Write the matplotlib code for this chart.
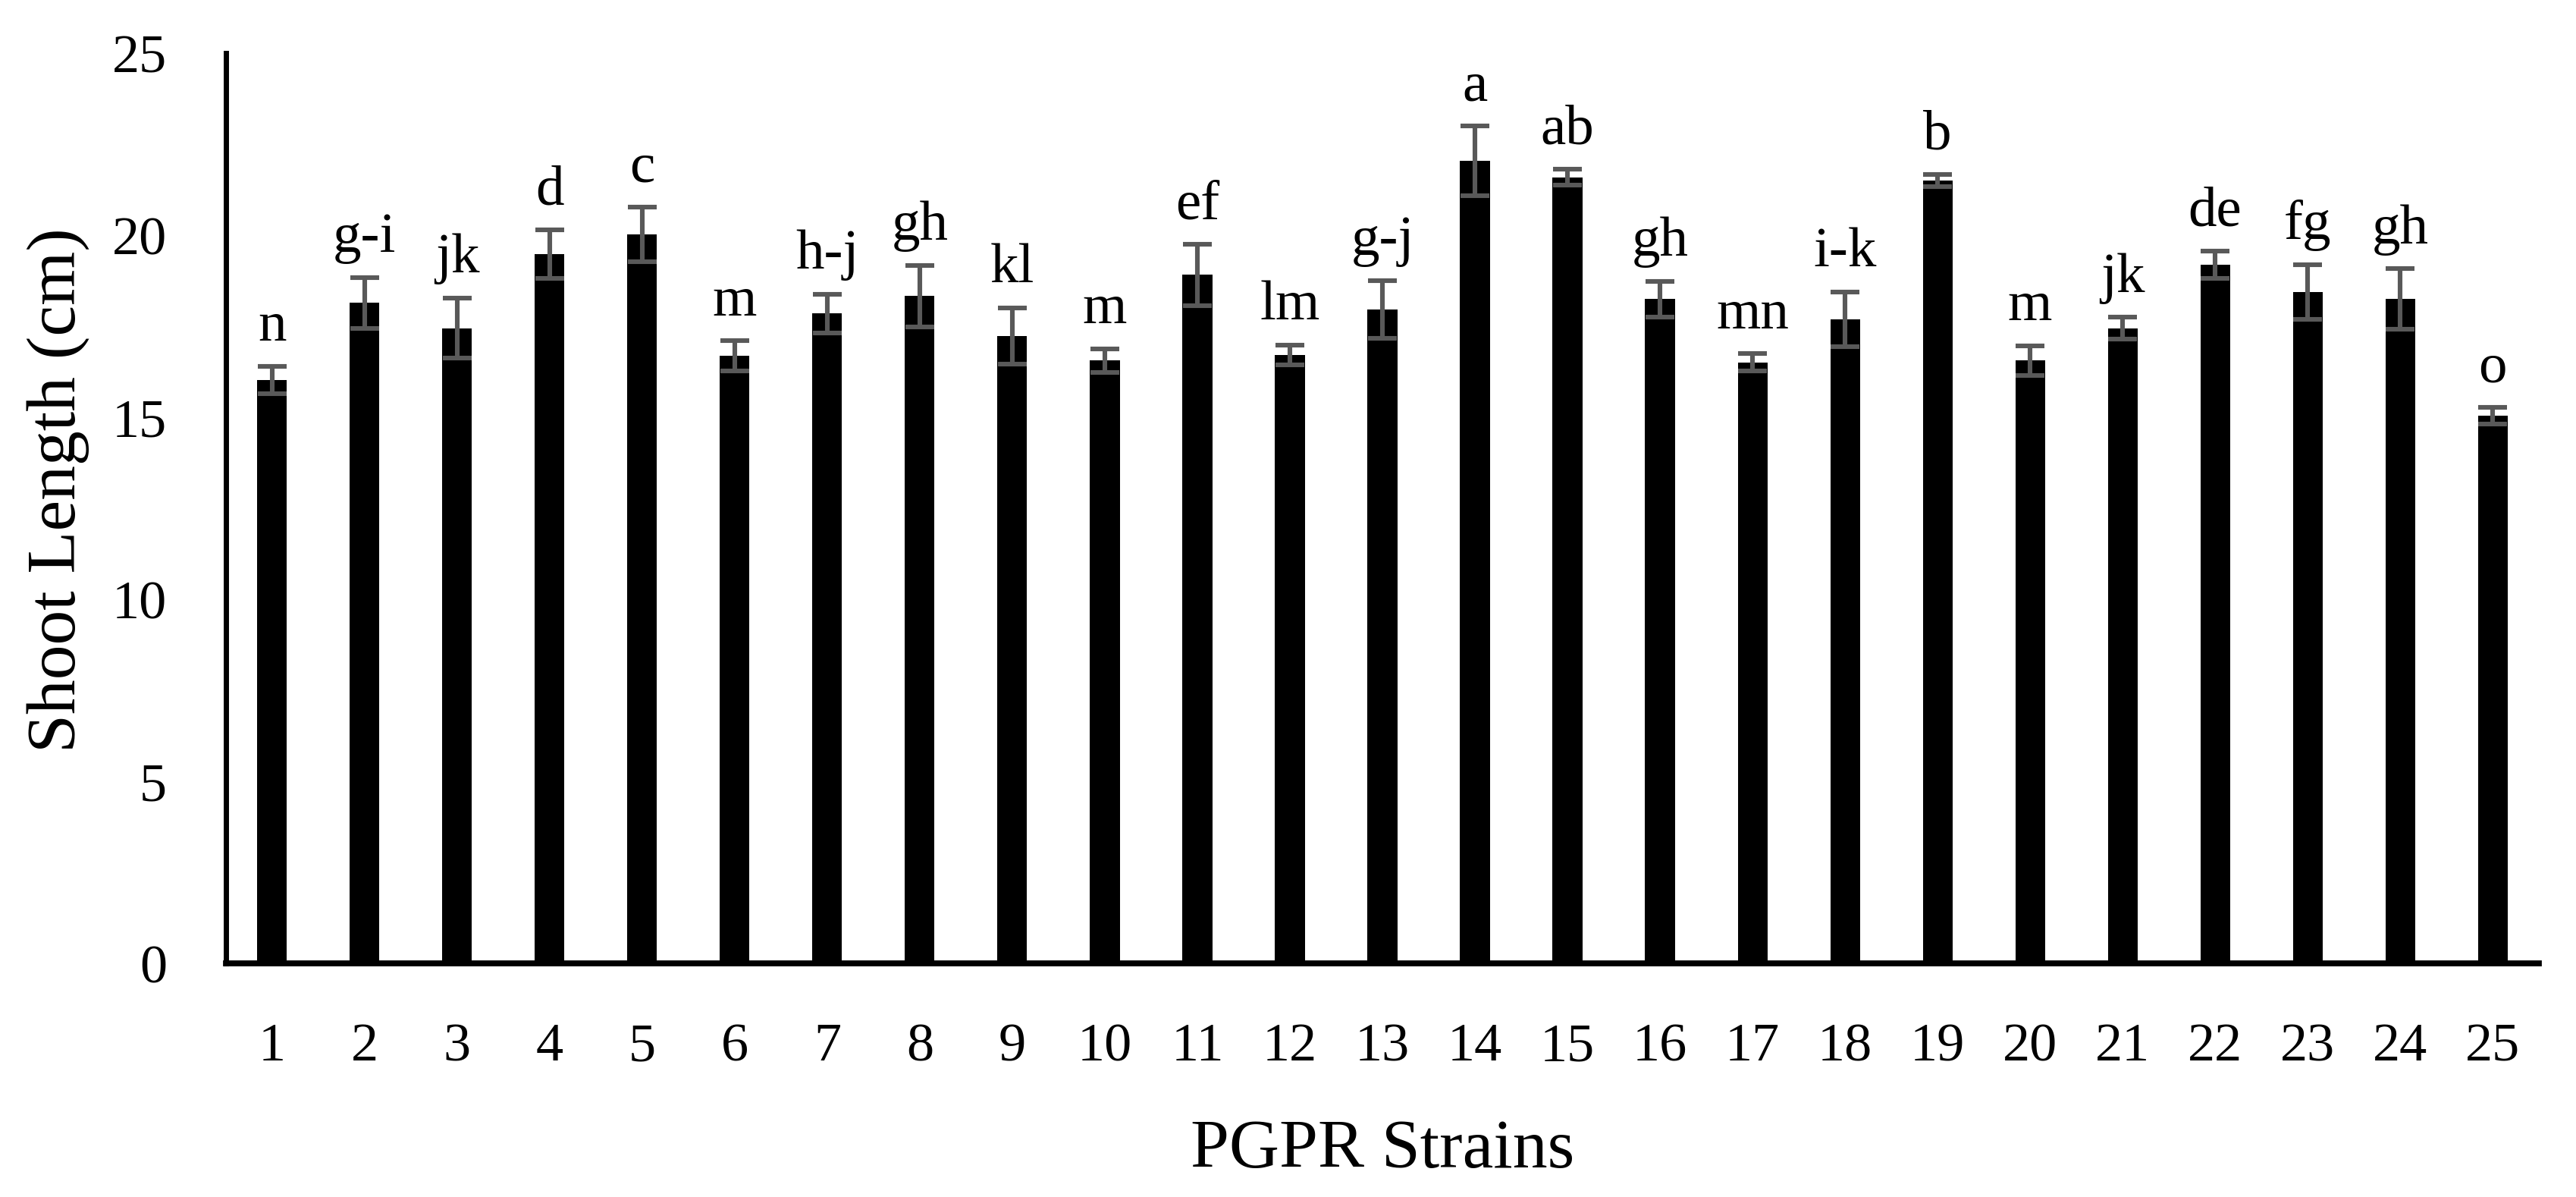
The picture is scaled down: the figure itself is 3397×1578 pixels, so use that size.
import matplotlib
matplotlib.use('Agg')
import matplotlib.pyplot as plt

strains = [str(i) for i in range(1, 26)]
shoot_length = [16.02, 18.14, 17.45, 19.48, 20.02, 16.69, 17.85, 18.33, 17.24, 16.56,
                18.91, 16.72, 17.96, 22.04, 21.59, 18.25, 16.51, 17.69, 21.50, 16.56,
                17.45, 19.19, 18.45, 18.25, 15.04]
std_err = [0.38, 0.70, 0.83, 0.66, 0.75, 0.41, 0.53, 0.84, 0.77, 0.32,
           0.84, 0.27, 0.80, 0.96, 0.22, 0.49, 0.24, 0.75, 0.17, 0.41,
           0.30, 0.37, 0.75, 0.83, 0.23]
letters = ['n', 'g-i', 'jk', 'd', 'c', 'm', 'h-j', 'gh', 'kl', 'm',
           'ef', 'lm', 'g-j', 'a', 'ab', 'gh', 'mn', 'i-k', 'b', 'm',
           'jk', 'de', 'fg', 'gh', 'o']

plt.rcParams['font.family'] = ['Liberation Serif', 'DejaVu Serif']

fig = plt.figure(figsize=(16.985, 7.89), dpi=200)
ax = fig.add_axes([0.0877, 0.195, 0.8979, 0.7606])

x = list(range(len(strains)))
ax.bar(x, shoot_length, width=0.32, color='black', zorder=2)
ax.errorbar(x, shoot_length, yerr=std_err, fmt='none', ecolor='#595959',
            elinewidth=2.2, capsize=7, capthick=2.2, zorder=3)

# significance letters just above the error bars
for i in x:
    ax.text(i, shoot_length[i] + std_err[i] + 0.7, letters[i], ha='center',
            va='baseline', fontsize=27)

ax.set_xlim(-0.5, len(strains) - 0.5)
ax.set_ylim(0, 25)
ax.set_yticks([0, 5, 10, 15, 20, 25])
ax.set_xticks(x)
ax.set_xticklabels(strains)
ax.tick_params(axis='both', length=0, labelsize=26, pad=28)

for side in ['top', 'right']:
    ax.spines[side].set_visible(False)
ax.spines['left'].set_linewidth(2.5)
ax.spines['bottom'].set_linewidth(2.8)

ax.set_xlabel('PGPR Strains', fontsize=33)
ax.set_ylabel('Shoot Length (cm)', fontsize=33)
ax.xaxis.set_label_coords(0.5, -0.205)
ax.xaxis.label.set_va('center')
ax.yaxis.set_label_coords(-0.0725, 0.52)
ax.yaxis.label.set_va('center')

fig.savefig('out.png', dpi=200)
